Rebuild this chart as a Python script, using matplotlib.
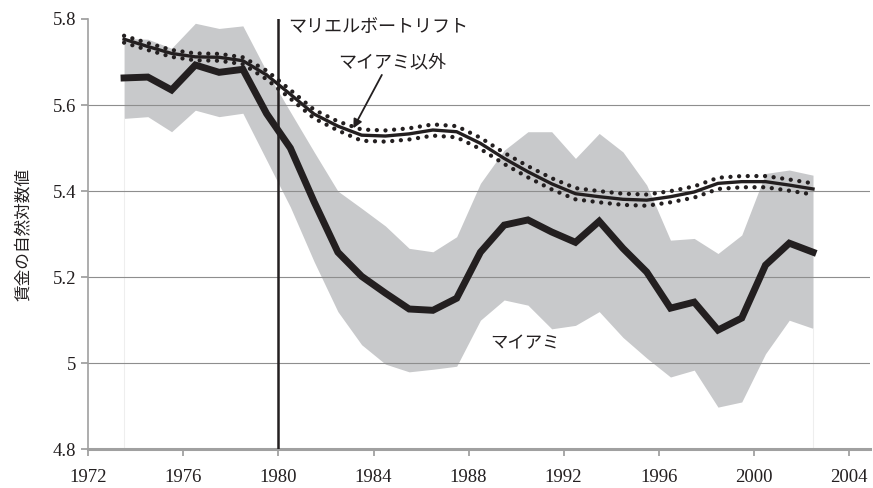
import numpy as np
import matplotlib
matplotlib.use("Agg")
import matplotlib.pyplot as plt
from matplotlib.ticker import FixedLocator

plt.rcParams['font.family'] = ['Noto Sans CJK JP', 'DejaVu Sans']

# survey years (points sit in the middle of each year)
years = list(range(1973, 2003))

# log wages, Miami
miami = [5.663, 5.665, 5.635, 5.693, 5.676, 5.683, 5.580, 5.500, 5.375, 5.258,
         5.202, 5.163, 5.126, 5.123, 5.151, 5.258, 5.321, 5.333, 5.305, 5.281,
         5.330, 5.267, 5.212, 5.128, 5.142, 5.077, 5.105, 5.228, 5.279, 5.258]
miami_hi = [5.755, 5.753, 5.732, 5.790, 5.778, 5.784, 5.678, 5.584, 5.491, 5.400,
            5.360, 5.319, 5.267, 5.259, 5.294, 5.418, 5.495, 5.538, 5.538, 5.476,
            5.534, 5.491, 5.414, 5.286, 5.290, 5.255, 5.298, 5.441, 5.449, 5.437]
miami_lo = [5.569, 5.573, 5.538, 5.588, 5.573, 5.581, 5.472, 5.363, 5.236, 5.120,
            5.043, 4.998, 4.980, 4.986, 4.993, 5.100, 5.147, 5.135, 5.080, 5.088,
            5.120, 5.060, 5.012, 4.968, 4.984, 4.898, 4.910, 5.022, 5.100, 5.081]

# log wages, comparison cities
others = [5.753, 5.736, 5.720, 5.712, 5.711, 5.703, 5.670, 5.625, 5.579, 5.551,
          5.530, 5.528, 5.533, 5.542, 5.538, 5.511, 5.476, 5.445, 5.417, 5.394,
          5.387, 5.381, 5.379, 5.387, 5.398, 5.418, 5.422, 5.422, 5.414, 5.405]
others_hi = [5.761, 5.744, 5.728, 5.720, 5.719, 5.711, 5.680, 5.635, 5.589, 5.562,
             5.543, 5.541, 5.546, 5.555, 5.551, 5.524, 5.489, 5.458, 5.430, 5.407,
             5.400, 5.394, 5.392, 5.400, 5.411, 5.431, 5.435, 5.435, 5.427, 5.418]
others_lo = [5.745, 5.728, 5.712, 5.704, 5.703, 5.695, 5.660, 5.615, 5.569, 5.541,
             5.517, 5.515, 5.520, 5.529, 5.525, 5.498, 5.463, 5.432, 5.404, 5.381,
             5.374, 5.368, 5.366, 5.374, 5.385, 5.405, 5.409, 5.409, 5.401, 5.392]

yticks = [4.8, 5.0, 5.2, 5.4, 5.6, 5.8]
ytick_labels = ['4.8', '5', '5.2', '5.4', '5.6', '5.8']
xticks = [1972, 1976, 1980, 1984, 1988, 1992, 1996, 2000, 2004]
boatlift_year = 1980

ink = '#231f20'
x = np.array(years) + 0.5

fig = plt.figure(figsize=(8.73, 4.88), dpi=100)
ax = fig.add_axes([0.1013, 0.0793, 0.8953, 0.8818])

# confidence band for Miami
ax.fill_between(x, miami_lo, miami_hi, color='#c8c9cb', lw=0, zorder=1)
ax.vlines([x[0], x[-1]], 4.8, [miami_lo[0], miami_lo[-1]], color='#eeeeee', lw=0.8, zorder=1)

# horizontal grid
for v in yticks[1:-1]:
    ax.axhline(v, color='#8e8e8e', lw=0.8, zorder=2)

ax.plot(x, miami, color=ink, lw=5.0, solid_joinstyle='miter', zorder=4)
ax.plot(x, others, color=ink, lw=2.4, zorder=4)
# dotted confidence bounds for the comparison cities
for band in (others_hi, others_lo):
    ax.plot(x, band, color=ink, lw=3.1, linestyle=(0, (0.01, 2.0)),
            dash_capstyle='round', zorder=4)

ax.axvline(boatlift_year, color=ink, lw=1.8, zorder=5)

ax.text(1980.4, 5.781, 'マリエルボートリフト', fontsize=13, color=ink,
        ha='left', va='center')
ax.text(1984.8, 5.70, 'マイアミ以外', fontsize=13, color=ink,
        ha='center', va='center')
ax.annotate('', xy=(1983.15, 5.546), xytext=(1984.35, 5.670),
            arrowprops=dict(arrowstyle='-|>', color=ink, lw=1.3,
                            mutation_scale=13, shrinkA=0, shrinkB=0), zorder=6)
ax.text(1990.38, 5.046, 'マイアミ', fontsize=12.5, color=ink,
        ha='center', va='center')

ax.set_xlim(1972, 2004.9)
ax.set_ylim(4.8, 5.8)
ax.xaxis.set_major_locator(FixedLocator(xticks))
ax.yaxis.set_major_locator(FixedLocator(yticks))
ax.set_yticklabels(ytick_labels)

for lab in ax.get_xticklabels() + ax.get_yticklabels():
    lab.set_family('Liberation Serif')
    lab.set_fontsize(13.5)
    lab.set_color(ink)

ax.tick_params(axis='both', color='#9a9a9a', length=5, width=1.2, pad=4)
ax.tick_params(axis='x', pad=9)

for side in ('top', 'right'):
    ax.spines[side].set_visible(False)
ax.spines['left'].set_color('#a0a0a0')
ax.spines['left'].set_linewidth(1.2)
ax.spines['bottom'].set_color('#a0a0a0')
ax.spines['bottom'].set_linewidth(2.2)

ax.set_ylabel('賃金の自然対数値', fontsize=12, color=ink, labelpad=15)

fig.savefig('out.png', dpi=100)
